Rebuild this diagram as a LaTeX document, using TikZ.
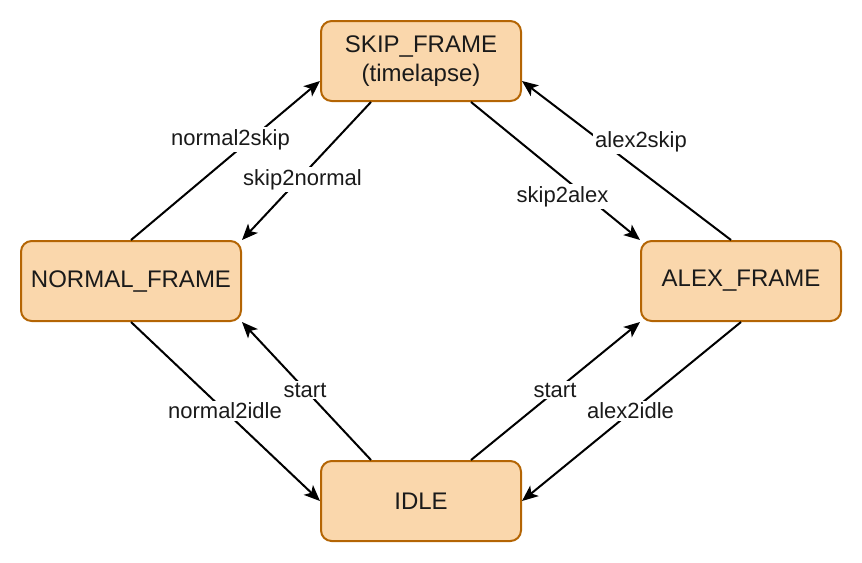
\documentclass[tikz,border=0pt]{standalone}
\usepackage{fontspec}
\setmainfont{Liberation Sans}
\usetikzlibrary{arrows.meta}
\definecolor{boxfill}{HTML}{FAD7AC}
\definecolor{boxdraw}{HTML}{B46504}
\definecolor{txt}{HTML}{1A1A1A}
\begin{document}
\begin{tikzpicture}[x=0.75pt,y=-0.75pt,
  state/.style={draw=boxdraw,fill=boxfill,line width=1.5pt,rounded corners=8pt,
    minimum height=60pt,inner sep=0pt,align=center,text=txt,
    font=\fontsize{18}{21.6}\selectfont},
  conn/.style={line width=1.5pt,-{Stealth[length=12pt,width=10pt,inset=3pt]}},
  lbl/.style={fill=white,inner sep=1.5pt,text=txt,font=\fontsize{16.5}{19}\selectfont}]
\useasboundingbox (0,0) rectangle (862,562);
\node[state,minimum width=150pt] (s) at (421,61) {SKIP\_FRAME\\(timelapse)};
\node[state,minimum width=165pt] (n) at (131,281) {NORMAL\_FRAME};
\node[state,minimum width=150pt] (a) at (741,281) {ALEX\_FRAME};
\node[state,minimum width=150pt] (i) at (421,501) {IDLE};
\draw[conn] (n.north) -- ([shift={(0,20)}]s.west);
\draw[conn] ([shift={(-50,0)}]s.south) -- (n.north east);
\draw[conn] ([shift={(50,0)}]s.south) -- (a.north west);
\draw[conn] ([shift={(-10,0)}]a.north) -- ([shift={(0,20)}]s.east);
\draw[conn] (n.south) -- (i.west);
\draw[conn] ([shift={(-50,0)}]i.north) -- (n.south east);
\draw[conn] ([shift={(50,0)}]i.north) -- (a.south west);
\draw[conn] (a.south) -- (i.east);
\node[lbl] (l1) at (230.5,139.5) {normal2skip};
\node[lbl] (l2) at (302.5,179.5) {skip2normal};
\node[lbl] (l3) at (562.5,196.5) {skip2alex};
\node[lbl] (l4) at (641,141.5) {alex2skip};
\node[lbl] (l5) at (225,411) {normal2idle};
\node[lbl] (l6) at (305,390) {start};
\node[lbl] (l7) at (555,390) {start};
\node[lbl] (l8) at (630.5,411) {alex2idle};
\end{tikzpicture}
\end{document}
